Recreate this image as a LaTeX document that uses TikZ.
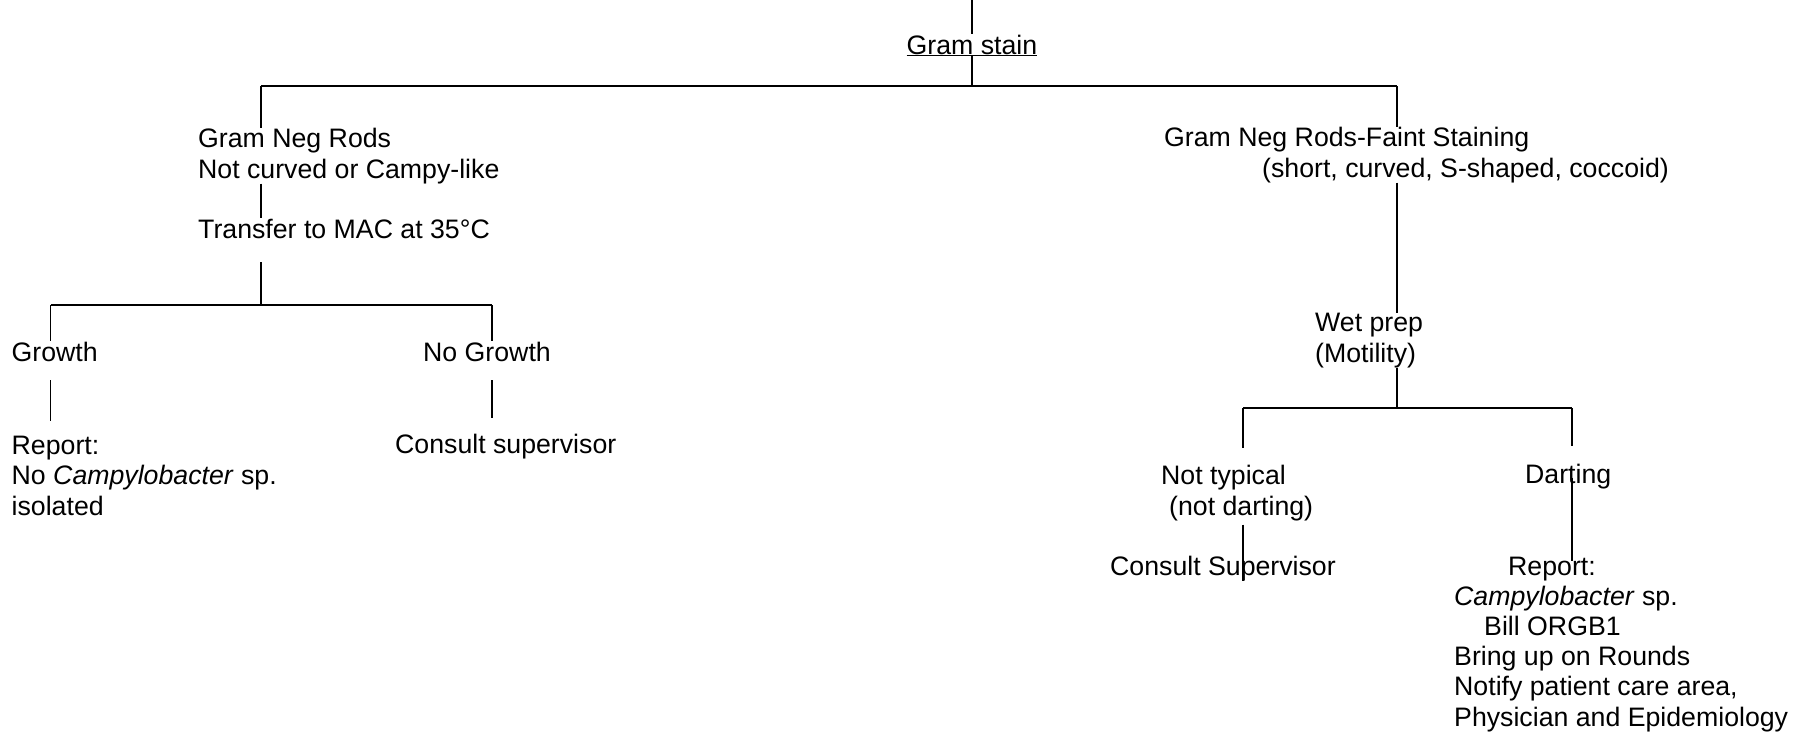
\documentclass[tikz,border=0pt]{standalone}
\usepackage{fontspec}
\setmainfont{Liberation Sans}
\newcommand\diagfont{\fontsize{26.7}{30.2}\selectfont}

\begin{document}
\begin{tikzpicture}[x=1pt,y=-1pt,
    txt/.style={inner sep=0pt,font=\diagfont,anchor=base west,align=left},
    vline/.style={line width=1.6pt},
    hline/.style={line width=2.2pt}]
    \useasboundingbox (0,0) rectangle (1794,736);

    % Noeud de depart
    \node[inner sep=0pt,font=\diagfont,anchor=base] (gs) at (972,54) {\underline{Gram stain}};
    \coordinate (top) at (972,0);
    \coordinate (b1l) at (261,86);
    \coordinate (b1r) at (1397,86);

    % Branche gauche (base = derniere ligne)
    \node[txt] (gnr) at (198,178) {Gram Neg Rods\\Not curved or Campy-like};
    \node[txt] (mac) at (198,238) {Transfer to MAC at 35°C};
    \coordinate (b2l) at (50.5,305);
    \coordinate (b2r) at (492,305);
    \node[txt] (growth) at (11.5,361) {Growth};
    \node[txt] (nogrowth) at (423,361) {No Growth};
    \node[txt] (rep1) at (11.5,515) {Report:\\No \textit{Campylobacter} sp.\\isolated};
    \node[txt] (cons1) at (395,453) {Consult supervisor};

    % Branche droite
    \node[txt] (faint) at (1164,177) {Gram Neg Rods-Faint Staining\\\hspace*{98pt}(short, curved, S-shaped, coccoid)};
    \node[txt] (wet) at (1315,362) {Wet prep\\(Motility)};
    \coordinate (b3l) at (1243,408);
    \coordinate (b3r) at (1572,408);
    \node[txt] (nottyp) at (1161,515) {Not typical\\\hspace*{8pt}(not darting)};
    \node[txt] (dart) at (1525,483) {Darting};
    \node[txt] (cons2) at (1110,575) {Consult Supervisor};
    \node[txt] (rep2) at (1454,726) {\hspace*{54pt}Report:\\\textit{Campylobacter} sp.\\\hspace*{30pt}Bill ORGB1\\Bring up on Rounds\\Notify patient care area,\\Physician and Epidemiology};

    % Traits
    \draw[vline] (top) -- (gs.north);
    \draw[vline] (gs.south) -- (gs.south |- b1l);
    \draw[hline] (b1l) -- (b1r);

    \draw[vline] (b1l) -- (b1l |- gnr.north);
    \draw[vline] (b1l |- gnr.south) -- (b1l |- mac.north);
    \draw[vline,shorten <=24pt] (b1l |- mac.south) -- (b1l |- b2l);
    \draw[hline] (b2l) -- (b2r);
    \draw[vline] (b2l) -- (b2l |- growth.north);
    \draw[vline] (b2r) -- (b2r |- nogrowth.north);
    \draw[vline,shorten <=19pt,shorten >=15pt] (b2l |- growth.south) -- (b2l |- rep1.north);
    \draw[vline,shorten <=19pt,shorten >=15pt] (b2r |- nogrowth.south) -- (b2r |- cons1.north);

    \draw[vline] (b1r) -- (b1r |- faint.north);
    \draw[vline] (b1r |- faint.south) -- (b1r |- wet.north);
    \draw[vline] (b1r |- wet.south) -- (b1r |- b3l);
    \draw[hline] (b3l) -- (b3r);
    \draw[vline,shorten >=17pt] (b3l) -- (b3l |- nottyp.north);
    \draw[vline,shorten >=17pt] (b3r) -- (b3r |- dart.north);
    \draw[vline,shorten <=-11pt,shorten >=-5pt] (b3r |- dart.south) -- (b3r |- rep2.north);
    \draw[vline,shorten <=4pt] (b3l |- nottyp.south) -- (b3l |- cons2.south);
\end{tikzpicture}
\end{document}
